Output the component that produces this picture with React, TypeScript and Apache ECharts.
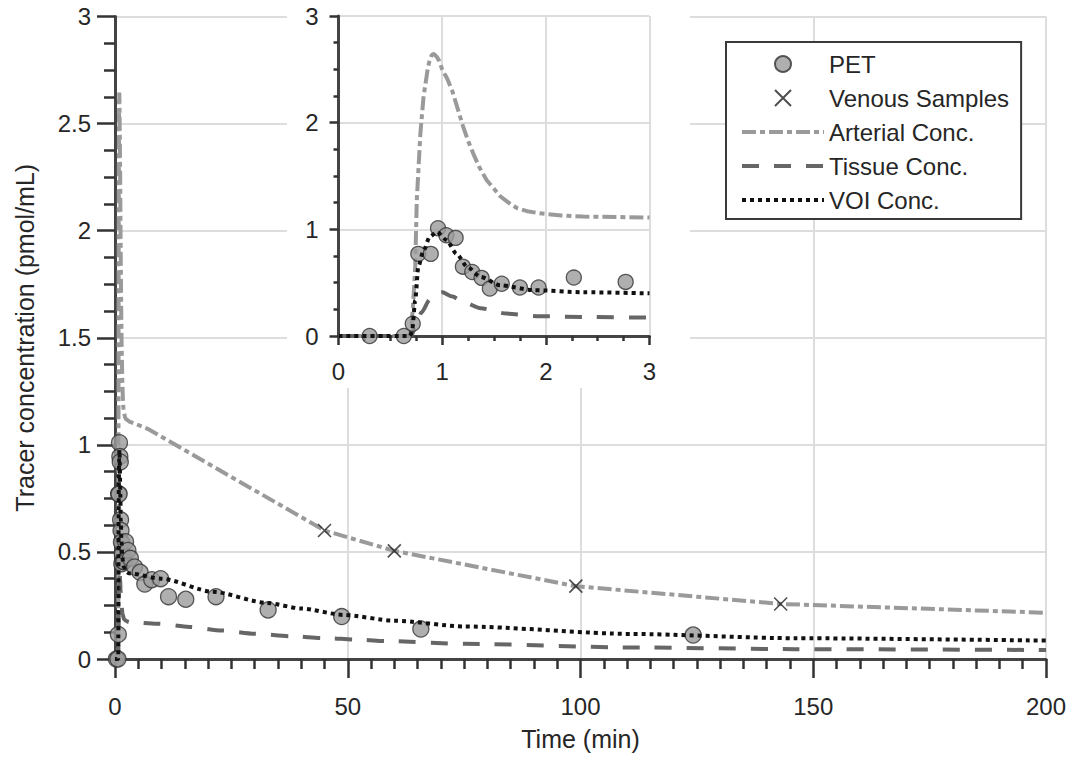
import React, { useEffect, useRef } from 'react';
import * as echarts from 'echarts';

// PET measurements (time in min, concentration in pmol/mL)
const petTime = [0.3, 0.63, 0.716, 0.77, 0.89, 0.96, 1.04, 1.13, 1.2, 1.29, 1.38, 1.46, 1.575, 1.75, 1.93, 2.27, 2.77, 3.3, 4.2, 5.4, 6.4, 7.9, 9.8, 11.5, 15.2, 21.7, 32.9, 48.7, 65.7, 124.2];
const petConc = [0.0, 0.0, 0.115, 0.77, 0.77, 1.01, 0.945, 0.92, 0.65, 0.6, 0.545, 0.445, 0.49, 0.455, 0.455, 0.548, 0.507, 0.47, 0.43, 0.405, 0.35, 0.37, 0.375, 0.291, 0.279, 0.291, 0.229, 0.198, 0.14, 0.112];

// Venous blood samples
const venousTime = [45, 60, 99, 143];
const venousConc = [0.6, 0.505, 0.34, 0.257];

// Arterial input curve (bolus peak, then interpolated through the venous samples)
const arterialTime = [0, 0.68, 0.7, 0.72, 0.74, 0.755, 0.79, 0.82, 0.86, 0.88, 0.9, 0.92, 0.95, 0.97, 1.0, 1.05, 1.1, 1.15, 1.2, 1.25, 1.3, 1.36, 1.43, 1.5, 1.56, 1.64, 1.72, 1.82, 1.94, 2.15, 2.36, 2.7, 3, 7, 45, 60, 99, 143, 200];
const arterialConc = [0, 0, 0.05, 0.3, 0.65, 1.27, 1.9, 2.24, 2.5, 2.59, 2.635, 2.645, 2.615, 2.58, 2.5, 2.41, 2.29, 2.13, 1.97, 1.83, 1.71, 1.58, 1.46, 1.38, 1.31, 1.25, 1.2, 1.17, 1.15, 1.13, 1.12, 1.115, 1.11, 1.075, 0.6, 0.505, 0.34, 0.257, 0.216];

// Tissue compartment curve
const tissueTime = [0, 0.7, 0.75, 0.8, 0.88, 0.95, 1.0, 1.1, 1.2, 1.37, 1.62, 1.94, 2.4, 3, 9, 16, 23, 30, 38, 45, 52, 59, 75, 111, 146, 200];
const tissueConc = [0, 0, 0.1, 0.22, 0.34, 0.4, 0.41, 0.37, 0.32, 0.26, 0.21, 0.185, 0.178, 0.172, 0.165, 0.15, 0.133, 0.118, 0.106, 0.098, 0.09, 0.083, 0.071, 0.054, 0.046, 0.042];

// Model fit to the VOI
const voiTime = [0, 0.69, 0.71, 0.74, 0.77, 0.82, 0.88, 0.95, 1.04, 1.14, 1.24, 1.37, 1.56, 1.88, 2.36, 3, 10, 21, 32.6, 40, 49, 60, 75, 111, 146, 200];
const voiConc = [0, 0, 0.05, 0.335, 0.65, 0.8, 0.93, 0.976, 0.9, 0.77, 0.65, 0.555, 0.476, 0.43, 0.41, 0.4, 0.375, 0.314, 0.262, 0.236, 0.206, 0.179, 0.152, 0.117, 0.097, 0.086];

const mainXTicks = { min: 0, max: 200, interval: 50 };
const mainYTicks = { min: 0, max: 3, interval: 0.5 };
const insetXTicks = { min: 0, max: 3, interval: 1 };
const insetYTicks = { min: 0, max: 3, interval: 1 };

const legendNames = ['PET', 'Venous Samples', 'Arterial Conc.', 'Tissue Conc.', 'VOI Conc.'];

const FONT = "'Liberation Sans', Arial, Helvetica, sans-serif";
const TEXT = '#262626';
const AXIS = '#444444';
const TICK = '#333333';
const GRID = '#dddddd';

// inset plot box and the white panel behind it (covers its tick labels too)
const INSET = { left: 338.5, top: 16, width: 311, height: 320 };
const INSET_PANEL = { x: 287, y: 0, width: 403, height: 388 };

const pairs = (t: number[], c: number[], maxT = Infinity) =>
  t.map((v, i) => [v, c[i]]).filter((p) => p[0] <= maxT);

const CROSS = 'path://M0,0L10,10M10,0L0,10';

function axisStyle(major: number, minor: number, minorSplit: number, margin: number) {
  return {
    axisLine: { show: true, onZero: false, lineStyle: { color: AXIS, width: 3 } },
    axisTick: { show: true, inside: false, length: major, lineStyle: { color: TICK, width: 2.5 } },
    minorTick: { show: true, splitNumber: minorSplit, length: minor, lineStyle: { color: TICK, width: 2.5 } },
    axisLabel: { fontSize: 24, color: TEXT, fontFamily: FONT, margin },
    splitLine: { show: true, lineStyle: { color: GRID, width: 2 } },
    minorSplitLine: { show: false },
  };
}

export default function App() {
  const ref = useRef<HTMLDivElement>(null);

  useEffect(() => {
    document.body.style.margin = '0';
    if (!ref.current) return;
    const chart = echarts.init(ref.current, undefined, { renderer: 'svg' });

    const arterialStyle = { color: '#9a9a9a', width: 4, type: [14, 4, 5, 4] as number[], cap: 'butt' as const };
    const tissueStyle = { color: '#666666', width: 4, type: [17, 15] as number[], cap: 'butt' as const };
    const voiStyle = { color: '#111111', width: 4, type: [4, 4] as number[], cap: 'butt' as const };
    const petItem = { color: '#9b9b9b', borderColor: '#333333', borderWidth: 1.3 };
    const crossItem = { color: 'rgba(0,0,0,0)', borderColor: '#222222', borderWidth: 1.6 };
    const lineStyles: Record<string, any> = {
      'Arterial Conc.': arterialStyle,
      'Tissue Conc.': tissueStyle,
      'VOI Conc.': voiStyle,
    };

    const lineSeries = (name: string, t: number[], c: number[], idx: number, z: number, smooth: number, maxT = Infinity) => ({
      name,
      type: 'line',
      xAxisIndex: idx,
      yAxisIndex: idx,
      data: pairs(t, c, maxT),
      symbol: 'none',
      showSymbol: false,
      smooth,
      smoothMonotone: 'x',
      lineStyle: lineStyles[name],
      itemStyle: { color: lineStyles[name].color },
      z,
    });

    chart.setOption({
      animation: false,
      backgroundColor: '#ffffff',
      textStyle: { fontFamily: FONT },
      grid: [
        { left: 115, top: 16.5, right: 24, bottom: 101, containLabel: false },
        { left: INSET.left, top: INSET.top, width: INSET.width, height: INSET.height, containLabel: false },
      ],
      xAxis: [
        {
          type: 'value',
          gridIndex: 0,
          ...mainXTicks,
          name: 'Time (min)',
          nameLocation: 'middle',
          nameGap: 67,
          nameTextStyle: { fontSize: 25, color: TEXT, fontFamily: FONT },
          ...axisStyle(19, 10, 10, 35),
          z: 0,
        },
        {
          type: 'value',
          gridIndex: 1,
          ...insetXTicks,
          ...axisStyle(9, 5, 4, 23),
          z: 6,
        },
      ],
      yAxis: [
        {
          type: 'value',
          gridIndex: 0,
          ...mainYTicks,
          name: 'Tracer concentration (pmol/mL)',
          nameLocation: 'middle',
          nameGap: 78,
          nameTextStyle: { fontSize: 25, color: TEXT, fontFamily: FONT },
          ...axisStyle(18, 11, 4, 24),
          z: 0,
        },
        {
          type: 'value',
          gridIndex: 1,
          ...insetYTicks,
          ...axisStyle(9, 5, 4, 20),
          z: 6,
        },
      ],
      graphic: {
        elements: [
          {
            type: 'rect',
            silent: true,
            z: 1,
            shape: INSET_PANEL,
            style: { fill: '#ffffff' },
          },
        ],
      },
      legend: {
        data: legendNames.map((name) =>
          lineStyles[name]
            ? { name, itemStyle: { opacity: 0 }, lineStyle: { ...lineStyles[name] } }
            : { name }
        ),
        orient: 'vertical',
        left: 726,
        top: 42,
        itemWidth: 82,
        itemHeight: 16,
        itemGap: 6,
        padding: [8, 12, 5, 14],
        backgroundColor: '#ffffff',
        borderColor: '#3a3a3a',
        borderWidth: 2,
        borderRadius: 0,
        selectedMode: false,
        textStyle: { fontSize: 24, color: TEXT, fontFamily: FONT, lineHeight: 28 },
        z: 10,
      },
      series: [
        lineSeries('Arterial Conc.', arterialTime, arterialConc, 0, 2, 0),
        lineSeries('Tissue Conc.', tissueTime, tissueConc, 0, 2, 0.25),
        {
          name: 'PET',
          type: 'scatter',
          xAxisIndex: 0,
          yAxisIndex: 0,
          data: pairs(petTime, petConc),
          symbol: 'circle',
          symbolSize: 16,
          itemStyle: petItem,
          z: 3,
        },
        lineSeries('VOI Conc.', voiTime, voiConc, 0, 4, 0.25),
        {
          name: 'Venous Samples',
          type: 'scatter',
          xAxisIndex: 0,
          yAxisIndex: 0,
          data: pairs(venousTime, venousConc),
          symbol: CROSS,
          symbolSize: 13,
          itemStyle: crossItem,
          z: 5,
        },
        // inset: first three minutes
        lineSeries('Arterial Conc.', arterialTime, arterialConc, 1, 7, 0, 3),
        lineSeries('Tissue Conc.', tissueTime, tissueConc, 1, 7, 0.25, 3),
        {
          name: 'PET',
          type: 'scatter',
          xAxisIndex: 1,
          yAxisIndex: 1,
          data: pairs(petTime, petConc, 3),
          symbol: 'circle',
          symbolSize: 15,
          itemStyle: petItem,
          z: 8,
        },
        lineSeries('VOI Conc.', voiTime, voiConc, 1, 9, 0.25, 3),
      ],
    });

    return () => chart.dispose();
  }, []);

  return <div ref={ref} style={{ width: 1070, height: 760 }} />;
}
